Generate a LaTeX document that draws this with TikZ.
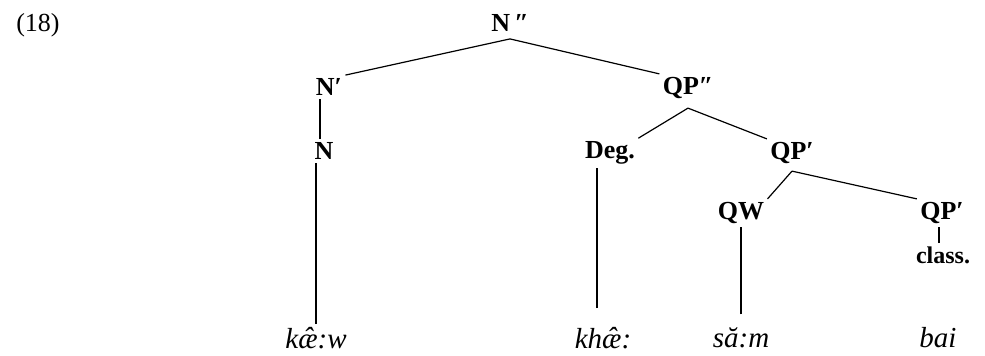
\documentclass[tikz,border=0pt]{standalone}
\usepackage{fontspec}
\setmainfont{Liberation Serif}
\usetikzlibrary{positioning}

\begin{document}
\begin{tikzpicture}[x=0.5pt, y=-0.5pt,
  lbl/.style={font=\fontsize{13}{15}\selectfont\bfseries, inner sep=1.5pt},
  wrd/.style={font=\fontsize{14.5}{17}\selectfont\itshape, inner sep=1.5pt},
  br/.style={line width=0.6pt}]
  \useasboundingbox (0,0) rectangle (985,355);
  \node[font=\fontsize{13}{15}\selectfont] (ex) at (38,25) {(18)};
  % upper part of the tree
  \node[lbl] (Npp) at (510,23) {N\,″};
  \node[lbl] (Np) at (329,87) {N′};
  \node[lbl] (QPpp) at (688,88) {QP″};
  \node[lbl] (N) at (324,151) {N};
  \node[lbl] (Deg) at (610,153) {Deg.};
  \node[lbl] (QPp) at (792,153) {QP′};
  \node[lbl] (QW) at (741,213) {QW};
  \node[lbl] (QPq) at (942,213) {QP′};
  \node[lbl, font=\fontsize{12}{14}\selectfont\bfseries] (cls) at (943,255) {class.};
  % words
  \node[wrd] (w1) at (316,338) {k\^{\ae}:w};
  \node[wrd] (w2) at (603,338) {kh\^{\ae}:};
  \node[wrd] (w3) at (741,338) {s\u{a}:m};
  \node[wrd] (w4) at (938,338) {bai};
  \draw[br] ([yshift=-2pt]Npp.south) -- (Np.north east);
  \draw[br] ([yshift=-2pt]Npp.south) -- (QPpp.north west);
  \draw[br] ([yshift=-3pt]QPpp.south) -- (Deg.north east);
  \draw[br] ([yshift=-3pt]QPpp.south) -- (QPp.north west);
  \draw[br] ([yshift=-2pt]QPp.south) -- (QW.north east);
  \draw[br] ([yshift=-2pt]QPp.south) -- (QPq.north west);
  \draw[br] ([xshift=-2pt]N.north) -- ([xshift=-2pt]N.north |- Np.south);
  \draw[br] (w1.north) -- (w1.north |- N.south);
  \draw[br, shorten <=8pt] ([xshift=-3pt]w2.north) -- ([xshift=-3pt]w2.north |- Deg.south);
  \draw[br, shorten <=5pt] (w3.north) -- (w3.north |- QW.south);
  \draw[br] ([xshift=-2pt]cls.north) -- ([xshift=-2pt]cls.north |- QPq.south);
\end{tikzpicture}
\end{document}
